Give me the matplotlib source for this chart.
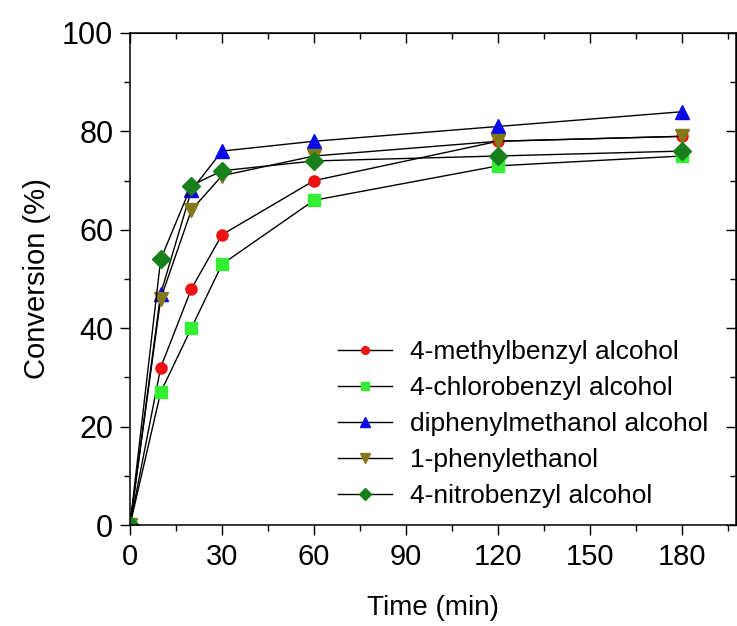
import matplotlib
matplotlib.use('Agg')
import matplotlib.pyplot as plt
from matplotlib.ticker import MultipleLocator

plt.rcParams['font.family'] = ['Liberation Sans', 'DejaVu Sans']

# reaction time (min)
time_min = [0, 10, 20, 30, 60, 120, 180]

# conversion (%) for each substrate
methylbenzyl = [0, 32, 48, 59, 70, 78, 79]
chlorobenzyl = [0, 27, 40, 53, 66, 73, 75]
diphenylmethanol = [0, 47, 68, 76, 78, 81, 84]
phenylethanol = [0, 46, 64, 71, 75, 78, 79]
nitrobenzyl = [0, 54, 69, 72, 74, 75, 76]

labels = ['4-methylbenzyl alcohol', '4-chlorobenzyl alcohol',
          'diphenylmethanol alcohol', '1-phenylethanol',
          '4-nitrobenzyl alcohol']

series = [methylbenzyl, chlorobenzyl, diphenylmethanol, phenylethanol, nitrobenzyl]
markers = ['o', 's', '^', 'v', 'D']
colors = ['#ee1111', '#33ee33', '#0a0ae6', '#84781a', '#17801a']
sizes = [8, 8, 10, 10, 9]

fig = plt.figure(figsize=(7.37, 6.26), dpi=100)
ax = fig.add_axes([0.1764, 0.1613, 0.822, 0.786])

for y, lab, m, c, s in zip(series, labels, markers, colors, sizes):
    ax.plot(time_min, y, color='black', lw=1.0, marker=m, ms=s,
            markerfacecolor=c, markeredgecolor=c, label=lab)

ax.set_xlim(0, 197.5)
ax.set_ylim(0, 100)
ax.xaxis.set_major_locator(MultipleLocator(30))
ax.xaxis.set_minor_locator(MultipleLocator(15))
ax.yaxis.set_major_locator(MultipleLocator(20))
ax.yaxis.set_minor_locator(MultipleLocator(10))

for sp in ax.spines.values():
    sp.set_linewidth(1.1)

ax.tick_params(which='both', direction='out', top=False, right=False, width=1.0)
ax.tick_params(which='major', length=7)
ax.tick_params(which='minor', length=4)
ax.tick_params(axis='y', labelsize=22, pad=5)
ax.tick_params(axis='x', labelsize=21, pad=6)

# mirrored inward ticks on top and right
top = ax.secondary_xaxis('top')
top.xaxis.set_major_locator(MultipleLocator(30))
top.xaxis.set_minor_locator(MultipleLocator(15))
top.tick_params(which='both', direction='in', labeltop=False, width=1.0)
top.tick_params(which='major', length=7)
top.tick_params(which='minor', length=4)
right = ax.secondary_yaxis('right')
right.yaxis.set_major_locator(MultipleLocator(20))
right.yaxis.set_minor_locator(MultipleLocator(10))
right.tick_params(which='both', direction='in', labelright=False, width=1.0)
right.tick_params(which='major', length=7)
right.tick_params(which='minor', length=4)

ax.set_xlabel('Time (min)', fontsize=20, labelpad=17)
ax.set_ylabel('Conversion (%)', fontsize=21, labelpad=8)

ax.legend(loc='lower left', bbox_to_anchor=(0.343, 0.035), frameon=False,
          fontsize=19, handlelength=2.05, handletextpad=0.68,
          labelspacing=0.45, borderpad=0, borderaxespad=0, markerscale=0.7)

fig.savefig('out.png', dpi=100)
